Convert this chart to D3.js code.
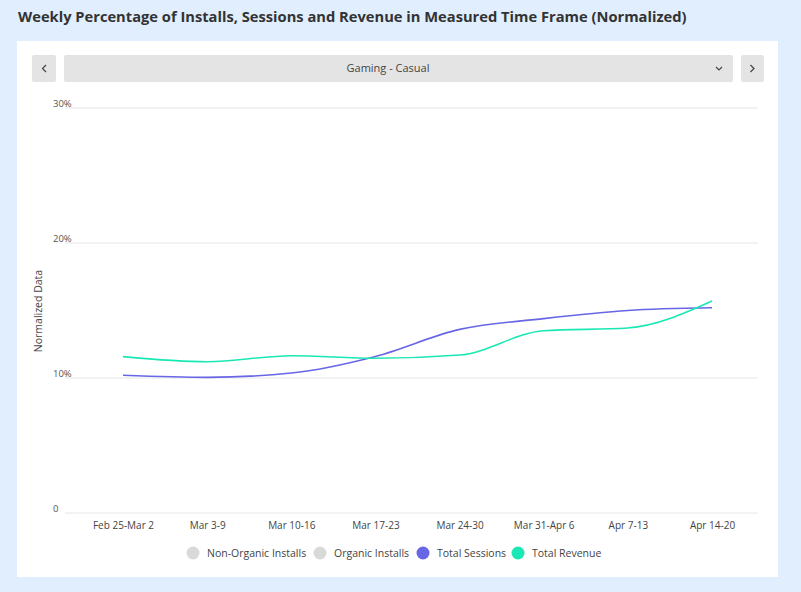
<!DOCTYPE html>
<html><head><meta charset="utf-8">
<script src="https://cdn.jsdelivr.net/npm/d3@7"></script>
<style>body{margin:0;background:#e0eefd;font-family:"Open Sans",sans-serif}</style>
</head><body>
<svg id="c" width="801" height="592"></svg>
<script>
const categories = ["Feb 25-Mar 2","Mar 3-9","Mar 10-16","Mar 17-23","Mar 24-30","Mar 31-Apr 6","Apr 7-13","Apr 14-20"];
const totalSessions = [10.2, 10.05, 10.37, 11.6, 13.6, 14.4, 15.0, 15.2];
const totalRevenue = [11.58, 11.2, 11.65, 11.46, 11.7, 13.5, 13.7, 15.7];
const yTicks = [0, 10, 20, 30];
const yTickLabels = ["0", "10%", "20%", "30%"];
const legendItems = ["Non-Organic Installs", "Organic Installs", "Total Sessions", "Total Revenue"];
const legendColors = ["#d9d9d9", "#d9d9d9", "#6767e6", "#19e8b4"];

const svg = d3.select("#c");
svg.append("rect").attr("width",801).attr("height",592).attr("fill","#e0eefd");
svg.append("text").attr("x",18).attr("y",22).attr("font-size",14.7).attr("font-weight",700)
  .attr("fill","#333").attr("font-family","Open Sans").text("Weekly Percentage of Installs, Sessions and Revenue in Measured Time Frame (Normalized)");
svg.append("rect").attr("x",17).attr("y",41).attr("width",761).attr("height",536).attr("fill","#fff");

// controls
svg.append("rect").attr("x",32).attr("y",55).attr("width",24).attr("height",27).attr("rx",2).attr("fill","#e4e4e4");
svg.append("rect").attr("x",64).attr("y",55).attr("width",669).attr("height",27).attr("rx",2).attr("fill","#e4e4e4");
svg.append("rect").attr("x",741).attr("y",55).attr("width",23).attr("height",27).attr("rx",2).attr("fill","#e4e4e4");
svg.append("path").attr("d","M46,65 L42.5,68.5 L46,72").attr("fill","none").attr("stroke","#444").attr("stroke-width",1.2);
svg.append("path").attr("d","M750.5,65 L754,68.5 L750.5,72").attr("fill","none").attr("stroke","#444").attr("stroke-width",1.2);
svg.append("path").attr("d","M716,67 L719,70 L722,67").attr("fill","none").attr("stroke","#444").attr("stroke-width",1.2);
svg.append("text").attr("x",388).attr("y",72).attr("text-anchor","middle").attr("font-size",11).attr("fill","#444").text("Gaming - Casual");

const x = d3.scalePoint().domain(categories).range([123, 712]);
const y = d3.scaleLinear().domain([0, 30]).range([513, 108]);

const g = svg.append("g");
g.selectAll("line.grid").data(yTicks).join("line").attr("class","grid")
  .attr("x1",65).attr("x2",758).attr("y1",d=>y(d)).attr("y2",d=>y(d))
  .attr("stroke","#e6e6e6").attr("stroke-width",1);
g.selectAll("text.yt").data(yTicks).join("text").attr("class","yt")
  .attr("x",53).attr("y",d=>y(d)-1).attr("font-size",9.5).attr("fill","#555")
  .text((d,i)=>yTickLabels[i]);

const xAxis = d3.axisBottom(x).tickSize(0).tickPadding(9);
const ax = svg.append("g").attr("transform","translate(0,513)").call(xAxis);
ax.select(".domain").remove();
ax.selectAll("text").attr("font-size",10).attr("fill","#444").attr("font-family","Open Sans");

svg.append("text").attr("transform","translate(42,311) rotate(-90)").attr("text-anchor","middle")
  .attr("font-size",10.5).attr("fill","#444").text("Normalized Data");

const line = d3.line().x((d,i)=>x(categories[i])).y(d=>y(d)).curve(d3.curveMonotoneX);
svg.append("path").datum(totalSessions).attr("d",line).attr("fill","none").attr("stroke",legendColors[2]).attr("stroke-width",1.6);
svg.append("path").datum(totalRevenue).attr("d",line).attr("fill","none").attr("stroke",legendColors[3]).attr("stroke-width",1.6);

// legend
const lx = [193, 320, 423, 518];
const lg = svg.selectAll("g.leg").data(legendItems).join("g").attr("class","leg")
  .attr("transform",(d,i)=>`translate(${lx[i]},553)`);
lg.append("circle").attr("r",6.5).attr("fill",(d,i)=>legendColors[i]);
lg.append("text").attr("x",14).attr("y",4).attr("font-size",10.5).attr("fill","#444").text(d=>d);
</script>
</body></html>
